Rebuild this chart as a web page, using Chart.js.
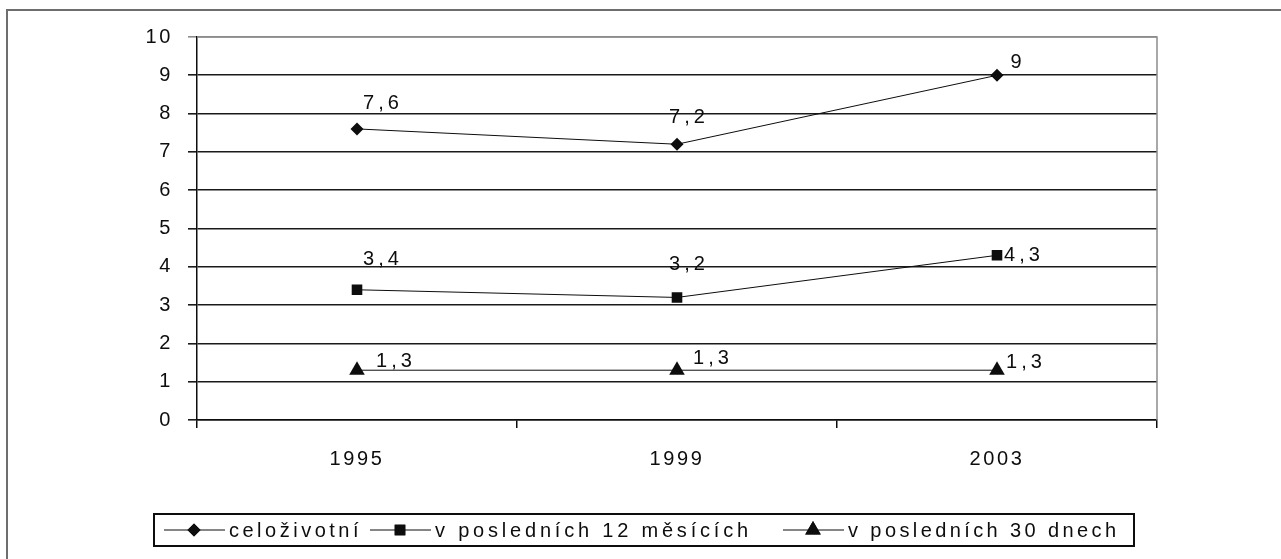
<!DOCTYPE html>
<html>
<head>
<meta charset="utf-8">
<script src="https://cdn.jsdelivr.net/npm/chart.js@4.4.1/dist/chart.umd.min.js"></script>
<style>
  html, body { margin: 0; padding: 0; background: #fff; overflow: hidden; }
  #frame { position: absolute; left: 6px; top: 9px; width: 1400px; height: 700px;
           border-left: 2px solid #6e6e6e; border-top: 2px solid #6e6e6e; }
  #wrap { position: absolute; left: 0; top: 0; width: 1281px; height: 559px; }
</style>
</head>
<body>
<div id="frame"></div>
<div id="wrap"><canvas id="c" width="1281" height="559"></canvas></div>
<script>
// Survey years and the three prevalence series (percent)
const years = ['1995', '1999', '2003'];
const seriesNames = ['celoživotní', 'v posledních 12 měsících', 'v posledních 30 dnech'];
const lifetime = [7.6, 7.2, 9];
const last12Months = [3.4, 3.2, 4.3];
const last30Days = [1.3, 1.3, 1.3];
const yTickValues = [0, 1, 2, 3, 4, 5, 6, 7, 8, 9, 10];

const FONT = '"Liberation Sans", Arial, sans-serif';
const FONT_SIZE = 20;
const INK = '#0d0d0d';
const markers = [
  { pointStyle: 'rectRot', radius: 6.5 },
  { pointStyle: 'rect', radius: 7.5 },
  { pointStyle: 'triangle', radius: 9 }
];
// label placement relative to each point (dx, dy of the text centre)
const labelOffsets = [
  [[24, -26], [10, -28], [19, -14]],
  [[24, -31], [10, -34], [25, -1]],
  [[37, -10], [34, -13], [27, -9]]
];
// left edge of each legend entry's sample line, and the spacing of its text
const legendEntryX = [164, 370, 783];
const legendTracking = ['3.5px', '3.8px', '3.4px'];

const fmt = v => String(v).replace('.', ',');

const spacingPlugin = {
  id: 'spacing',
  beforeUpdate(c) { c.ctx.letterSpacing = '2.6px'; },
  beforeLayout(c) { c.ctx.letterSpacing = '2.6px'; },
  beforeDraw(c) { c.ctx.letterSpacing = '2.6px'; }
};

const framePlugin = {
  id: 'plotFrame',
  beforeDatasetsDraw(c) {
    const { ctx, chartArea: a } = c;
    ctx.save();
    ctx.strokeStyle = '#8c8c8c';
    ctx.lineWidth = 1.5;
    ctx.beginPath();
    ctx.moveTo(a.left, a.top);
    ctx.lineTo(a.right, a.top);
    ctx.lineTo(a.right, a.bottom);
    ctx.stroke();
    ctx.restore();
  }
};

const labelPlugin = {
  id: 'valueLabels',
  afterDatasetsDraw(c) {
    const ctx = c.ctx;
    ctx.save();
    ctx.letterSpacing = '4px';
    ctx.font = FONT_SIZE + 'px ' + FONT;
    ctx.fillStyle = INK;
    ctx.textAlign = 'center';
    ctx.textBaseline = 'middle';
    c.data.datasets.forEach((ds, i) => {
      c.getDatasetMeta(i).data.forEach((pt, j) => {
        const [dx, dy] = labelOffsets[i][j];
        ctx.fillText(fmt(ds.data[j]), pt.x + dx + 2, pt.y + dy + 1);
      });
    });
    ctx.restore();
  }
};

const legendPlugin = {
  id: 'boxLegend',
  afterDraw(c) {
    const ctx = c.ctx;
    ctx.save();
    ctx.strokeStyle = INK;
    ctx.lineWidth = 2;
    ctx.strokeRect(154, 514, 980, 32);
    ctx.font = FONT_SIZE + 'px ' + FONT;
    ctx.textBaseline = 'middle';
    ctx.textAlign = 'left';
    const y = 530;
    c.data.datasets.forEach((ds, i) => {
      const x = legendEntryX[i];
      ctx.strokeStyle = INK;
      ctx.lineWidth = 1;
      ctx.beginPath();
      ctx.moveTo(x, y);
      ctx.lineTo(x + 61, y);
      ctx.stroke();
      ctx.fillStyle = INK;
      Chart.helpers.drawPoint(ctx, { pointStyle: markers[i].pointStyle, radius: markers[i].radius, rotation: 0, borderWidth: 0 }, x + 30, y);
      ctx.fill();
      ctx.letterSpacing = legendTracking[i];
      ctx.fillText(ds.label, x + 65, y + 1);
    });
    ctx.restore();
  }
};

const mkDataset = (label, data, i) => ({
  label,
  data,
  borderColor: INK,
  borderWidth: 1,
  backgroundColor: INK,
  pointBackgroundColor: INK,
  pointBorderColor: INK,
  pointBorderWidth: 0,
  pointStyle: markers[i].pointStyle,
  pointRadius: markers[i].radius,
  pointHoverRadius: markers[i].radius,
  tension: 0,
  fill: false
});

new Chart(document.getElementById('c'), {
  type: 'line',
  data: {
    labels: years,
    datasets: [
      mkDataset(seriesNames[0], lifetime, 0),
      mkDataset(seriesNames[1], last12Months, 1),
      mkDataset(seriesNames[2], last30Days, 2)
    ]
  },
  plugins: [spacingPlugin, framePlugin, labelPlugin, legendPlugin],
  options: {
    responsive: false,
    animation: false,
    devicePixelRatio: 1,
    layout: { padding: { top: 37, right: 124, bottom: 0, left: 0 } },
    plugins: { legend: { display: false }, tooltip: { enabled: false } },
    scales: {
      x: {
        offset: true,
        afterFit(s) { s.height = 139; },
        grid: { offset: true, drawOnChartArea: false, drawTicks: true, tickLength: 8, color: INK, lineWidth: 1.5 },
        border: { display: true, color: INK, width: 1.5 },
        ticks: { color: INK, font: { family: FONT, size: FONT_SIZE }, padding: 19 }
      },
      y: {
        min: 0,
        max: 10,
        afterFit(s) { s.width = 197; },
        afterBuildTicks(s) { s.ticks = yTickValues.map(v => ({ value: v })); },
        grid: {
          color: ctx => ctx.tick && ctx.tick.value === 10 ? '#8c8c8c' : '#1a1a1a',
          lineWidth: 1.6,
          tickLength: 9,
          drawTicks: true
        },
        border: { display: true, color: INK, width: 1.5 },
        ticks: { color: INK, font: { family: FONT, size: FONT_SIZE }, padding: 15, stepSize: 1 }
      }
    }
  }
});
</script>
</body>
</html>
